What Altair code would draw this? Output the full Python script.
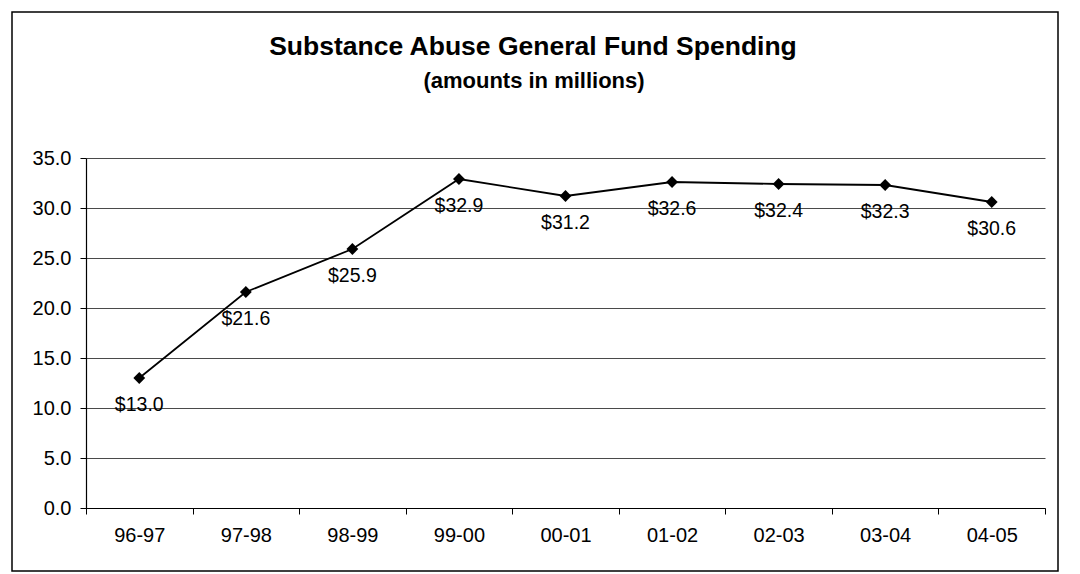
import altair as alt
import pandas as pd

# Fiscal years and General Fund spending (millions of dollars)
years = ["96-97", "97-98", "98-99", "99-00", "00-01", "01-02", "02-03", "03-04", "04-05"]
spending = [13.0, 21.6, 25.9, 32.9, 31.2, 32.6, 32.4, 32.3, 30.6]
y_ticks = [0, 5, 10, 15, 20, 25, 30, 35]

title_text = "Substance Abuse General Fund Spending"
subtitle_text = "(amounts in millions)"

df = pd.DataFrame({"year": years, "amount": spending})

FONT = "Liberation Sans"
W, H = 959, 350
PAD = {"left": 86, "top": 158, "right": 35, "bottom": 66}

x_enc = alt.X(
    "year:N",
    sort=years,
    title=None,
    scale=alt.Scale(paddingInner=0, paddingOuter=0),
    axis=alt.Axis(
        labelAngle=0,
        tickBand="extent",
        tickSize=6,
        tickColor="black",
        domainColor="black",
        domainWidth=1.2,
        labelPadding=11,
        labelFontSize=20,
        labelFont=FONT,
        labelColor="black",
        grid=False,
    ),
)
y_enc = alt.Y(
    "amount:Q",
    title=None,
    scale=alt.Scale(domain=[0, 35], nice=False, zero=True),
    axis=alt.Axis(
        values=y_ticks,
        format=".1f",
        tickSize=6,
        tickColor="black",
        domainColor="black",
        domainWidth=1.2,
        labelPadding=9,
        labelFontSize=20,
        labelFont=FONT,
        labelColor="black",
        grid=True,
        gridColor="#4a4a4a",
        gridWidth=1,
    ),
)

base = alt.Chart(df)

line = base.mark_line(color="black", strokeWidth=1.8).encode(x=x_enc, y=y_enc)
points = base.mark_point(
    shape="diamond", filled=True, color="black", size=140, opacity=1
).encode(x=x_enc, y=y_enc)
labels = (
    base.transform_calculate(label="'$' + format(datum.amount, '.1f')")
    .mark_text(font=FONT, fontSize=19.5, dy=27, color="black", baseline="middle")
    .encode(x=x_enc, y=y_enc, text="label:N")
)

# Chart heading, centred on the outer frame
single = alt.Data(values=[{}])
heading = alt.Chart(single).mark_text(
    text=title_text, font=FONT, fontSize=26.5, fontWeight="bold",
    color="black", align="center", baseline="middle",
).encode(x=alt.value(447), y=alt.value(-111))
subheading = alt.Chart(single).mark_text(
    text=subtitle_text, font=FONT, fontSize=22, fontWeight="bold",
    color="black", align="center", baseline="middle",
).encode(x=alt.value(448), y=alt.value(-77))

# Outer frame around the whole chart
frame = (
    alt.Chart(single)
    .mark_rect(fillOpacity=0, stroke="black", strokeWidth=1.5)
    .encode(
        x=alt.value(-74), x2=alt.value(972),
        y=alt.value(-146), y2=alt.value(413),
    )
)

chart = (
    alt.layer(line, points, labels, heading, subheading, frame)
    .properties(
        width=W,
        height=H,
        autosize=alt.AutoSizeParams(type="none"),
        padding=PAD,
        background="white",
    )
    .configure_view(stroke=None)
)

chart.save("out.html", embed_options={"renderer": "svg", "actions": False})
